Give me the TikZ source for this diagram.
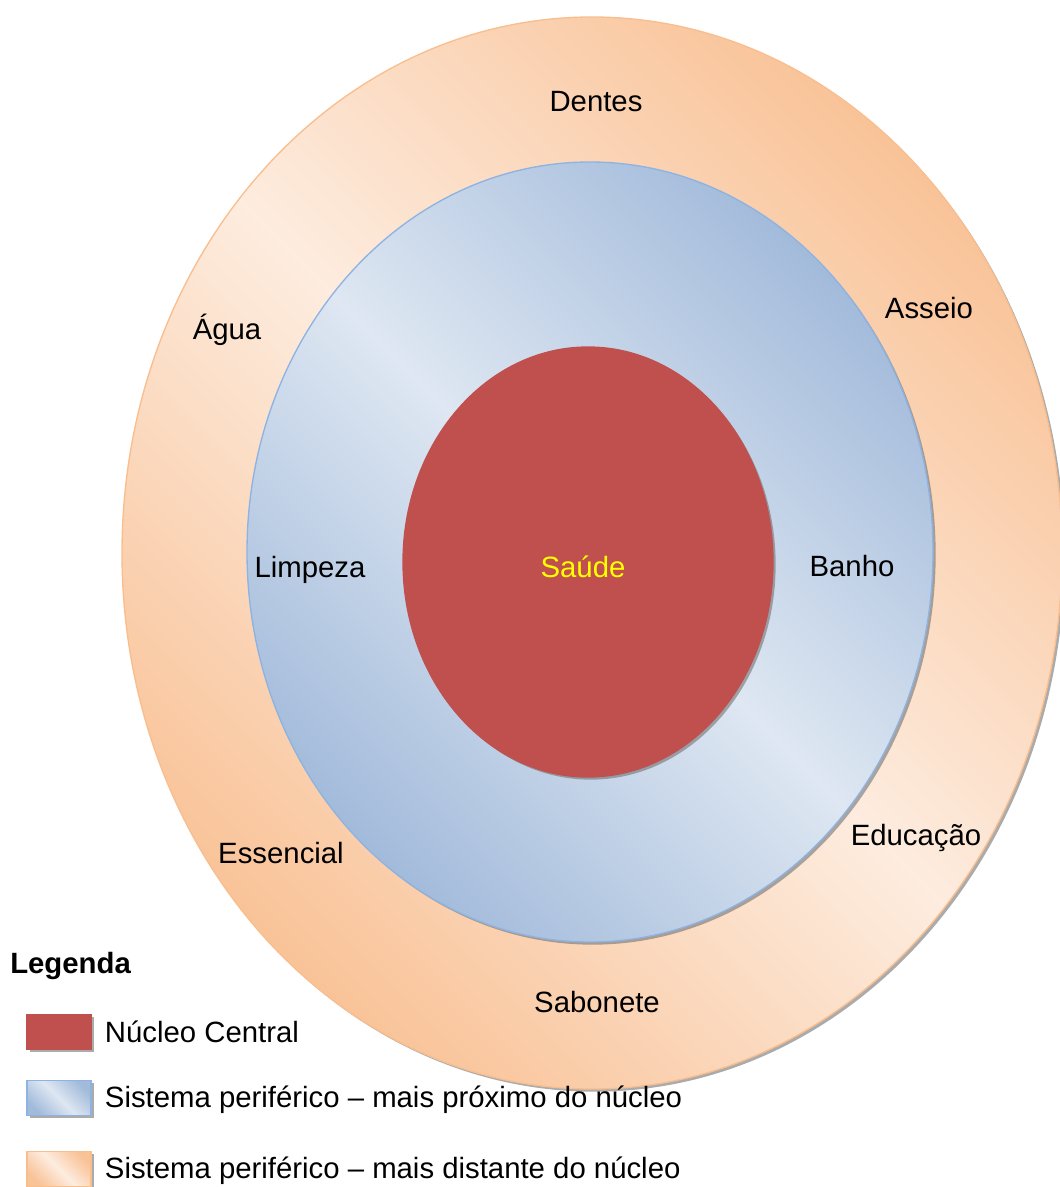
\documentclass[tikz,border=0pt]{standalone}
\usepackage{fontspec}
\setmainfont{Liberation Sans}
\usepackage{tikz}
\usetikzlibrary{shapes.geometric, shadows, positioning}
\definecolor{corered}{HTML}{C0504D}
\definecolor{bluedark}{HTML}{A3BBDB}
\definecolor{bluelight}{HTML}{DEE7F2}
\definecolor{blueline}{HTML}{8DB3E2}
\definecolor{orangedark}{HTML}{F9C398}
\definecolor{orangelight}{HTML}{FDECDF}
\definecolor{orangeline}{HTML}{F9BE8E}
\definecolor{saudeyellow}{HTML}{FFFF00}
\tikzstyle{softshadow} = [drop shadow={shadow xshift=2pt, shadow yshift=-2pt, fill=black!55, opacity=0.6}]
\tikzstyle{ring} = [ellipse, inner sep=0pt, line width=1pt]
\tikzstyle{farfill} = [draw=orangeline, top color=orangedark, bottom color=orangedark, middle color=orangelight, shading angle=-45]
\tikzstyle{nearfill} = [draw=blueline, top color=bluedark, bottom color=bluedark, middle color=bluelight, shading angle=-45]
\tikzstyle{corefill} = [fill=corered, draw=corered]
\tikzstyle{ringtext} = [font=\fontsize{22}{26}\selectfont, inner sep=0pt, text=black]
\tikzstyle{keybox} = [rectangle, inner sep=0pt, line width=1pt, minimum width=48pt, minimum height=26pt, softshadow]

\begin{document}
\begin{tikzpicture}[x=0.75pt, y=-0.75pt, node distance=49.5pt]
\useasboundingbox (0,0) rectangle (1059,1187);

\node (outer) [ring, farfill, softshadow, minimum width=705pt, minimum height=804pt] at (592,553) {};
\node (middle) [ring, nearfill, softshadow, minimum width=514.5pt, minimum height=585pt] at (590,552) {};
\node (core) [ring, corefill, softshadow, minimum width=277.5pt, minimum height=322.5pt] at (588,562) {};

\node (saude) [ringtext, text=saudeyellow] at (583,567) {Saúde};
\node (limpeza) [ringtext] at (310,570) {Limpeza};
\node (banho) [ringtext] at (852,566) {Banho};
\node (dentes) [ringtext] at (596,102) {Dentes};
\node (asseio) [ringtext] at (929,308) {Asseio};
\node (agua) [ringtext] at (227,330) {Água};
\node (educacao) [ringtext] at (916,838) {Educação};
\node (essencial) [ringtext] at (281,853) {Essencial};
\node (sabonete) [ringtext] at (597,1002) {Sabonete};

% legenda
\node (legenda) [ringtext, font=\fontsize{22}{26}\selectfont\bfseries, anchor=west] at (10,966) {Legenda};
\node (keycore) [keybox, corefill] at (59,1032) {};
\node (keynear) [keybox, nearfill, below of=keycore] {};
\node (keyfar) [keybox, farfill, node distance=53.25pt, below of=keynear] {};
\node (keycoretext) [ringtext, right=9.75pt of keycore] {Núcleo Central};
\node (keyneartext) [ringtext, right=9.75pt of keynear, yshift=-1.5pt] {Sistema periférico – mais próximo do núcleo};
\node (keyfartext) [ringtext, right=9.75pt of keyfar, yshift=-1.5pt] {Sistema periférico – mais distante do núcleo};

\end{tikzpicture}
\end{document}
